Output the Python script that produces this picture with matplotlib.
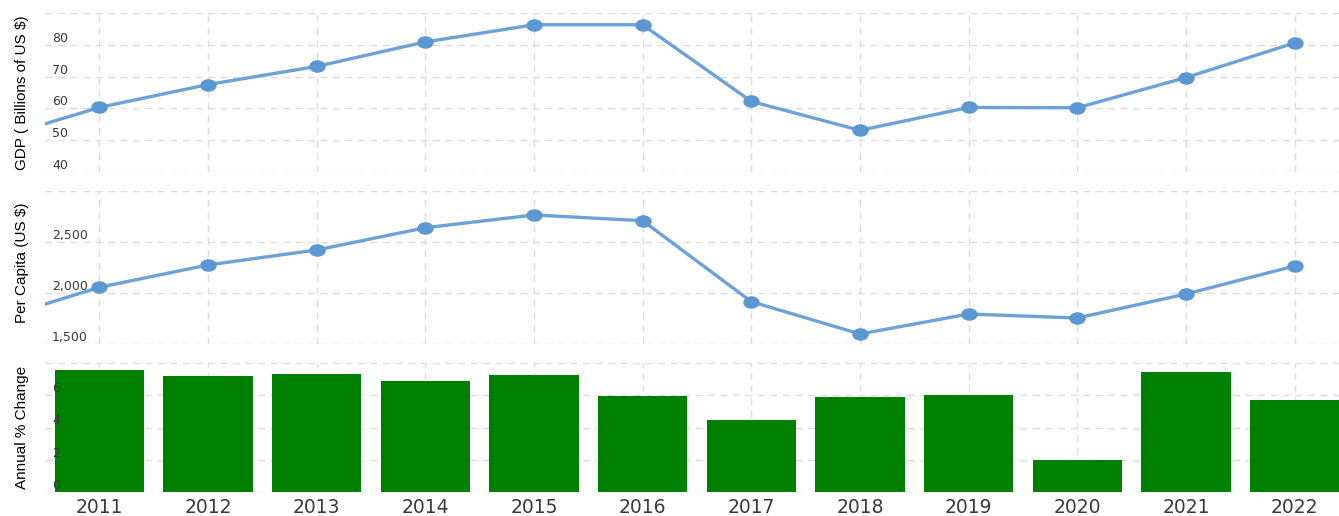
import matplotlib
matplotlib.use("Agg")
import matplotlib.pyplot as plt
from matplotlib.markers import MarkerStyle
from matplotlib.transforms import Affine2D
from matplotlib.ticker import FuncFormatter

# ---- data ----
line_years = [2010, 2011, 2012, 2013, 2014, 2015, 2016, 2017, 2018, 2019, 2020, 2021, 2022]
gdp_billions = [50.0, 60.3, 67.5, 73.2, 80.9, 86.3, 86.3, 62.2, 53.1, 60.3, 60.2, 69.7, 80.6]
per_capita = [1725, 2056, 2275, 2422, 2640, 2765, 2709, 1915, 1598, 1794, 1755, 1990, 2265]
bar_years = [2011, 2012, 2013, 2014, 2015, 2016, 2017, 2018, 2019, 2020, 2021, 2022]
annual_change = [7.56, 7.17, 7.33, 6.89, 7.27, 5.96, 4.46, 5.9, 6.02, 2.0, 7.46, 5.7]

gdp_ticks = [40, 50, 60, 70, 80, 90]
pc_ticks = [1500, 2000, 2500, 3000]
chg_ticks = [0, 2, 4, 6, 8]

W, H = 1339, 516
fig = plt.figure(figsize=(W / 100, H / 100), dpi=100)

def px_rect(top, bottom, left=45, right=1349):
    return [left / W, (H - bottom) / H, (right - left) / W, (bottom - top) / H]

ax1 = fig.add_axes(px_rect(13, 172))
ax2 = fig.add_axes(px_rect(191, 344))
ax3 = fig.add_axes(px_rect(363, 492))
# transparent overlay carrying the bar panel's y tick labels above the bars
ax3_lab = fig.add_axes(px_rect(363, 492), sharex=ax3, sharey=ax3)
ax3_lab.patch.set_visible(False)

LINE_C = "#6ca2d8"
MARK_C = "#5b97d3"
GRID_C = "#dddddd"
TICK_C = "#3a3a3a"
ellipse = MarkerStyle("o", transform=Affine2D().scale(1.35, 1.0))

ax1.plot(line_years, gdp_billions, color=LINE_C, lw=2.4, marker=ellipse,
         markersize=8, markerfacecolor=MARK_C, markeredgecolor=MARK_C, zorder=3)
ax2.plot(line_years, per_capita, color=LINE_C, lw=2.4, marker=ellipse,
         markersize=8, markerfacecolor=MARK_C, markeredgecolor=MARK_C, zorder=3)
ax3.bar(bar_years, annual_change, width=0.82, color="#008000", zorder=3)

ax1.set_ylim(40, 90)
ax2.set_ylim(1500, 3000)
ax3.set_ylim(0, 8)

fmt1 = FuncFormatter(lambda v, p: "" if v >= 90 else f"{v:.0f}")
fmt2 = FuncFormatter(lambda v, p: "" if v >= 3000 else f"{v:,.0f}")
fmt3 = FuncFormatter(lambda v, p: "" if v >= 8 else f"{v:.0f}")

ax1.set_yticks(gdp_ticks)
ax2.set_yticks(pc_ticks)
ax3.set_yticks(chg_ticks)

labels = ["GDP ( Billions of US $)", "Per Capita (US $)", "Annual % Change"]
label_y = [0.50, 0.53, 0.50]
for ax, lab, ly, fmt in zip([ax1, ax2, ax3], labels, label_y, [fmt1, fmt2, fmt3]):
    ax.set_xlim(2010.5, 2022.5)
    ax.set_xticks(bar_years)
    for s in ax.spines.values():
        s.set_visible(False)
    ax.grid(True, color=GRID_C, linestyle=(0, (5, 4)), linewidth=1.0, zorder=0)
    ax.set_axisbelow(True)
    ax.tick_params(axis="y", length=0, pad=-5, labelsize=9, labelcolor=TICK_C)
    ax.tick_params(axis="x", length=0)
    ax.set_ylabel(lab, fontsize=11, color="black", va="center",
                  family=["Liberation Sans Narrow", "Liberation Sans", "DejaVu Sans"])
    ax.yaxis.set_label_coords(-0.0175, ly)
    if ax is not ax3:
        ax.yaxis.set_major_formatter(fmt)
        for t in ax.get_yticklabels():
            t.set_horizontalalignment("left")
            t.set_verticalalignment("bottom")
        ax.tick_params(axis="x", labelbottom=False)

# bar panel: labels live on the overlay so they sit on top of the bars
ax3.tick_params(axis="y", labelleft=False)
ax3.tick_params(axis="x", labelsize=13.5, labelcolor=TICK_C, pad=4)
for s in ax3_lab.spines.values():
    s.set_visible(False)
ax3_lab.yaxis.set_major_formatter(fmt3)
ax3_lab.tick_params(axis="y", length=0, pad=-5, labelsize=9, labelcolor=TICK_C)
ax3_lab.tick_params(axis="x", length=0, labelbottom=False)
for t in ax3_lab.get_yticklabels():
    t.set_horizontalalignment("left")
    t.set_verticalalignment("bottom")

fig.savefig("out.png", dpi=100)
